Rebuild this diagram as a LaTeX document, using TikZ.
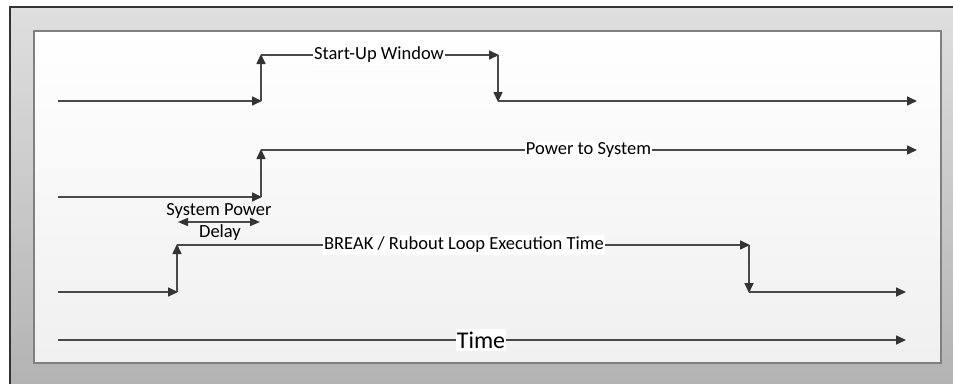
\documentclass[tikz,border=0pt]{standalone}
\usepackage{fontspec}
\setmainfont{Carlito}
\usetikzlibrary{arrows.meta}
\definecolor{lineC}{HTML}{4A4A4A}
\definecolor{tipC}{HTML}{333333}
\tikzset{
  sig/.style={draw=lineC, line width=1.6pt},
  arr/.style={sig, -{Triangle[length=10pt,width=9pt,color=tipC]}, shorten >=-1pt},
  lab/.style={fill=white, inner xsep=1pt, inner ysep=2pt, text=black, font=\fontsize{18.5}{22}\selectfont},
  plainlab/.style={inner sep=0pt, text=black, font=\fontsize{18.5}{22}\selectfont},
  biglab/.style={fill=white, inner xsep=1pt, inner ysep=3pt, text=black, font=\fontsize{24}{28}\selectfont},
}
\begin{document}
\begin{tikzpicture}[x=1pt,y=-1pt]
\useasboundingbox (0,0) rectangle (953,383);
% frame
\fill[top color=white!75!gray, bottom color=gray!60] (10,7) rectangle (960,390);
\draw[line width=1.2pt, draw=gray!40!black] (10,390) -- (10,7) -- (960,7);
\fill[top color=white, bottom color=black!6] (34,31) rectangle (941,363);
\draw[line width=1.2pt, draw=gray] (34,31) rectangle (941,363);
% row 1: Start-Up Window
\coordinate (a0) at (58,101);
\coordinate (a1) at (261,101);
\coordinate (a2) at (261,55);
\coordinate (a3) at (498,55);
\coordinate (a4) at (498,101);
\coordinate (a5) at (916,101);
\node[lab] (la) at (379,55) {Start-Up Window};
\draw[arr] (a0) -- (a1);
\draw[arr] (a1) -- (a2);
\draw[sig] (a2) -- (la);
\draw[arr] (la) -- (a3);
\draw[arr] (a3) -- (a4);
\draw[arr] (a4) -- (a5);
% row 2: Power to System
\coordinate (b0) at (58,197);
\coordinate (b1) at (261,197);
\coordinate (b2) at (261,150);
\coordinate (b3) at (916,150);
\node[lab] (lb) at (588.5,150) {Power to System};
\draw[arr] (b0) -- (b1);
\draw[arr] (b1) -- (b2);
\draw[sig] (b2) -- (lb);
\draw[arr] (lb) -- (b3);
% delay
\coordinate (d0) at (178,222);
\coordinate (d1) at (260,222);
\node[plainlab] (ld1) at (219,211) {System Power};
\node[plainlab] (ld2) at (220,233) {Delay};
\draw[sig, {Triangle[length=10pt,width=8pt,color=tipC]}-{Triangle[length=10pt,width=8pt,color=tipC]}] (d0) -- (d1);
% row 3: BREAK
\coordinate (c0) at (58,292);
\coordinate (c1) at (177,292);
\coordinate (c2) at (177,245);
\coordinate (c3) at (749,245);
\coordinate (c4) at (749,292);
\coordinate (c5) at (905,292);
\node[lab] (lc) at (464,245) {BREAK / Rubout Loop Execution Time};
\draw[arr] (c0) -- (c1);
\draw[arr] (c1) -- (c2);
\draw[sig] (c2) -- (lc);
\draw[arr] (lc) -- (c3);
\draw[arr] (c3) -- (c4);
\draw[arr] (c4) -- (c5);
% time
\coordinate (t0) at (58,340);
\coordinate (t1) at (905,340);
\node[biglab] (lt) at (481,340) {Time};
\draw[sig] (t0) -- (lt);
\draw[arr] (lt) -- (t1);
\end{tikzpicture}
\end{document}
